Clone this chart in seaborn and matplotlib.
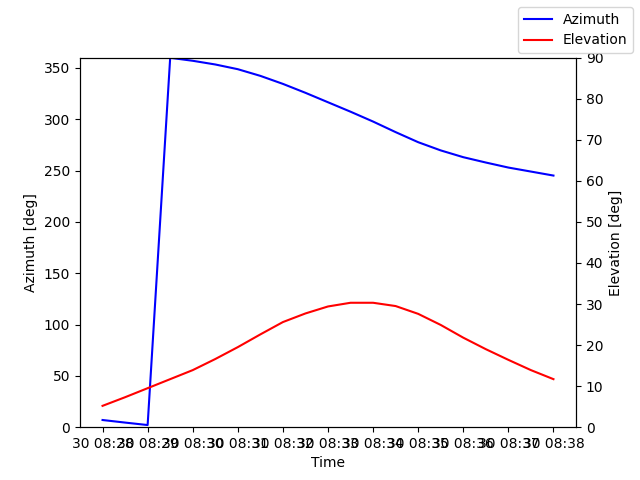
import pandas as pd
import numpy as np
import matplotlib
matplotlib.use("Agg")
import matplotlib.pyplot as plt
import matplotlib.dates as mdates
import seaborn as sns

# === Data (sampled every 30 s) ===
times = pd.date_range("2023-06-30 08:28:00", "2023-06-30 08:38:00", freq="30s")
azimuth = [7.0, 4.5, 2.1, 359.8, 356.9, 353.3, 348.7, 342.2, 334.4, 325.7, 316.5,
           307.3, 297.7, 287.4, 277.6, 269.6, 263.0, 257.8, 252.9, 249.0, 245.1]
elevation = [5.2, 7.3, 9.5, 11.7, 13.9, 16.6, 19.5, 22.6, 25.6, 27.7, 29.4,
             30.3, 30.3, 29.5, 27.6, 24.9, 21.8, 19.0, 16.4, 13.9, 11.7]

df = pd.DataFrame({"Time": times, "Azimuth": azimuth, "Elevation": elevation})

# === Plot ===
fig, ax = plt.subplots(figsize=(6.4, 4.8), dpi=100)
sns.lineplot(data=df, x="Time", y="Azimuth", color="blue", label="Azimuth",
             legend=False, ax=ax)
ax.set_ylim(0, 360)
ax.set_ylabel("Azimuth [deg]")
ax.set_xlabel("Time")
ax.xaxis.set_major_locator(mdates.MinuteLocator())
ax.xaxis.set_major_formatter(mdates.DateFormatter("%d %H:%M"))

ax2 = ax.twinx()
sns.lineplot(data=df, x="Time", y="Elevation", color="red", label="Elevation",
             legend=False, ax=ax2)
ax2.set_ylim(0, 90)
ax2.set_ylabel("Elevation [deg]")
ax2.xaxis.set_major_locator(mdates.MinuteLocator())
ax2.xaxis.set_major_formatter(mdates.DateFormatter("%d %H:%M"))

for a in (ax, ax2):
    if a.get_legend() is not None:
        a.get_legend().remove()

h1, l1 = ax.get_legend_handles_labels()
h2, l2 = ax2.get_legend_handles_labels()
fig.legend(h1 + h2, l1 + l2, loc="upper right")

plt.savefig("out.png", dpi=100)
